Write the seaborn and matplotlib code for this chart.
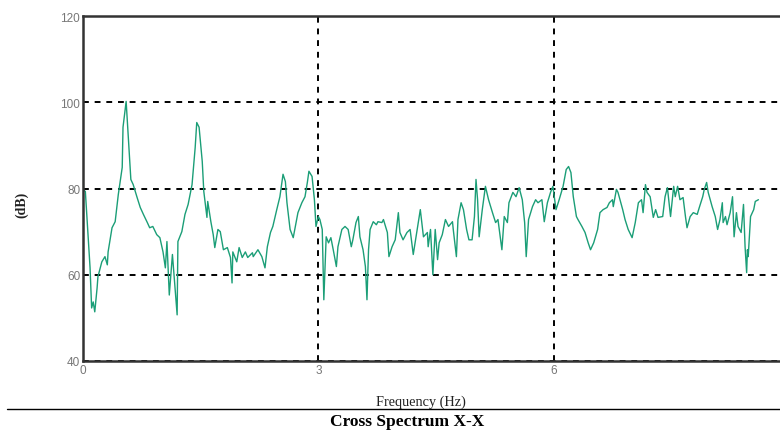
import matplotlib
matplotlib.use("Agg")
import matplotlib.pyplot as plt
from matplotlib.lines import Line2D
import seaborn as sns
import pandas as pd

freq_hz = [
    0.00, 0.03, 0.09, 0.11, 0.13, 0.15, 0.18, 0.19, 0.24, 0.28, 0.31, 0.32, 0.37, 0.41, 0.45,
    0.50, 0.51, 0.55, 0.56, 0.59, 0.61, 0.64, 0.69, 0.73, 0.77, 0.82, 0.85, 0.89, 0.94, 0.98,
    1.02, 1.05, 1.07, 1.10, 1.14, 1.16, 1.20, 1.21, 1.26, 1.30, 1.34, 1.39, 1.43, 1.45, 1.48,
    1.52, 1.54, 1.58, 1.59, 1.63, 1.66, 1.68, 1.72, 1.75, 1.79, 1.84, 1.88, 1.90, 1.91, 1.96,
    1.99, 2.03, 2.07, 2.10, 2.16, 2.17, 2.23, 2.28, 2.32, 2.35, 2.39, 2.42, 2.47, 2.51, 2.55,
    2.58, 2.60, 2.64, 2.68, 2.70, 2.74, 2.79, 2.83, 2.86, 2.88, 2.92, 2.95, 2.97, 3.00, 3.02,
    3.05, 3.07, 3.10, 3.13, 3.16, 3.19, 3.23, 3.25, 3.30, 3.34, 3.38, 3.42, 3.44, 3.48, 3.51,
    3.53, 3.57, 3.60, 3.62, 3.64, 3.66, 3.70, 3.74, 3.76, 3.81, 3.83, 3.88, 3.90, 3.94, 3.98,
    4.02, 4.04, 4.08, 4.13, 4.17, 4.21, 4.26, 4.30, 4.34, 4.39, 4.40, 4.43, 4.46, 4.49, 4.52,
    4.54, 4.58, 4.62, 4.66, 4.71, 4.72, 4.76, 4.78, 4.82, 4.85, 4.89, 4.92, 4.96, 4.99, 5.01,
    5.03, 5.05, 5.09, 5.13, 5.17, 5.22, 5.26, 5.29, 5.34, 5.37, 5.41, 5.43, 5.48, 5.52, 5.56,
    5.60, 5.63, 5.65, 5.68, 5.73, 5.77, 5.80, 5.85, 5.88, 5.92, 5.96, 5.99, 6.03, 6.07, 6.12,
    6.16, 6.19, 6.22, 6.25, 6.29, 6.31, 6.36, 6.40, 6.44, 6.47, 6.51, 6.56, 6.59, 6.63, 6.68,
    6.71, 6.75, 6.76, 6.80, 6.82, 6.88, 6.91, 6.95, 7.00, 7.04, 7.08, 7.12, 7.14, 7.17, 7.19,
    7.23, 7.27, 7.30, 7.33, 7.39, 7.42, 7.45, 7.49, 7.53, 7.55, 7.58, 7.61, 7.65, 7.68, 7.70,
    7.74, 7.78, 7.83, 7.86, 7.90, 7.92, 7.95, 7.97, 8.02, 8.06, 8.09, 8.12, 8.15, 8.16, 8.19,
    8.21, 8.25, 8.28, 8.30, 8.33, 8.35, 8.39, 8.42, 8.44, 8.46, 8.47, 8.48, 8.51, 8.55, 8.57,
    8.61,
]

level_db = [
    79.8, 79.3, 61.6, 52.3, 53.7, 51.4, 57.0, 59.5, 63.0, 64.2, 62.3, 65.3, 70.9, 72.3, 78.6,
    84.9, 94.2, 100.2, 97.2, 87.9, 82.1, 80.9, 77.9, 75.6, 74.0, 72.1, 70.9, 71.2, 69.3, 68.6,
    65.3, 61.6, 67.7, 55.3, 64.7, 60.0, 50.7, 67.7, 70.0, 74.0, 76.3, 80.9, 89.5, 95.3, 94.2,
    86.3, 79.3, 73.3, 77.0, 72.3, 69.3, 66.3, 70.5, 70.0, 65.8, 66.3, 64.0, 58.1, 65.3, 63.0,
    66.3, 64.0, 65.3, 64.0, 65.1, 64.2, 65.8, 64.2, 61.6, 66.5, 69.8, 71.2, 75.1, 78.1, 83.3,
    81.6, 76.7, 70.5, 68.6, 70.5, 74.4, 76.7, 78.1, 81.4, 84.0, 82.8, 77.4, 71.2, 73.5, 72.8,
    70.5, 54.2, 68.8, 67.4, 68.6, 65.8, 61.9, 66.5, 70.5, 71.2, 70.5, 66.5, 68.1, 72.1, 73.5,
    68.8, 65.8, 61.9, 54.2, 65.8, 70.5, 72.3, 71.6, 72.3, 72.1, 72.8, 69.8, 64.2, 66.5, 68.1,
    74.4, 69.8, 68.1, 69.8, 70.5, 64.7, 70.5, 75.1, 68.8, 69.8, 66.5, 70.5, 60.0, 70.5, 63.5,
    67.4, 69.3, 72.8, 71.2, 72.3, 70.5, 64.2, 72.8, 76.7, 75.1, 70.5, 68.1, 68.1, 73.5, 82.1,
    77.4, 68.8, 75.1, 80.5, 77.4, 74.4, 72.1, 72.8, 65.8, 73.5, 72.1, 76.7, 79.1, 78.1, 80.2,
    77.4, 72.1, 64.2, 72.8, 75.8, 77.4, 76.7, 77.4, 72.3, 76.7, 79.1, 80.5, 75.1, 77.4, 80.5,
    84.4, 85.1, 83.7, 78.1, 73.5, 72.8, 71.2, 69.8, 67.4, 65.8, 67.4, 70.5, 74.4, 75.1, 75.6,
    76.7, 77.4, 75.8, 79.8, 79.1, 75.1, 72.8, 70.5, 68.6, 72.1, 76.7, 77.4, 74.4, 80.9, 79.1,
    78.1, 73.3, 75.1, 73.3, 73.5, 78.1, 80.2, 73.5, 80.5, 78.1, 80.5, 77.4, 77.9, 73.5, 70.9,
    73.5, 74.4, 74.0, 75.8, 78.1, 79.8, 81.4, 79.1, 75.8, 73.5, 70.5, 72.8, 76.7, 72.1, 73.5,
    71.6, 74.4, 78.1, 68.8, 74.4, 71.2, 69.8, 76.3, 66.5, 60.5, 65.8, 64.2, 73.5, 75.1, 77.0,
    77.4,
]

x_ticks = [0, 3, 6]
y_ticks = [40, 60, 80, 100, 120]
x_label = "Frequency (Hz)"
y_label = "(dB)"
title = "Cross Spectrum X-X"

df = pd.DataFrame({"freq": freq_hz, "db": level_db})

sns.set_style("white")
plt.rcParams["font.family"] = ["DejaVu Sans"]

W, H = 780, 431
fig = plt.figure(figsize=(W / 100, H / 100), dpi=100)
ax = fig.add_axes([83 / W, 69 / H, 706 / W, 345 / H])

sns.lineplot(data=df, x="freq", y="db", ax=ax, sort=False, estimator=None,
             color="#1b9e77", linewidth=1.0)

ax.set_xlim(0, 9)
ax.set_ylim(40, 120)
ax.set_xticks(x_ticks)
ax.set_yticks(y_ticks)
ax.set_xlabel("")
ax.set_ylabel("")
ax.grid(True, color="black", linestyle=(0, (3, 3)), linewidth=1.4)
ax.set_axisbelow(True)
ax.tick_params(axis="both", length=0, pad=2, labelsize=8.5, labelcolor="#777777")
for lab in ax.get_xticklabels() + ax.get_yticklabels():
    lab.set_family("Liberation Sans")
for side in ["left", "top", "bottom", "right"]:
    ax.spines[side].set_color("#333333")
    ax.spines[side].set_linewidth(1.8)

fig.text(421 / W, 1 - 402 / H, x_label, ha="center", va="center",
         fontsize=10.3, family="Liberation Serif", color="#222222")
fig.text(22 / W, 1 - 205 / H, y_label, ha="center", va="center", rotation=90,
         fontsize=10, family="Liberation Serif", fontweight="bold", color="#222222")
fig.add_artist(Line2D([7 / W, 1.0], [1 - 410 / H, 1 - 410 / H],
                      transform=fig.transFigure, color="black", linewidth=1.0))
fig.text(407 / W, 1 - 422 / H, title, ha="center", va="center",
         fontsize=12.5, family="Liberation Serif", fontweight="bold", color="black")

fig.savefig("out.png", dpi=100)
